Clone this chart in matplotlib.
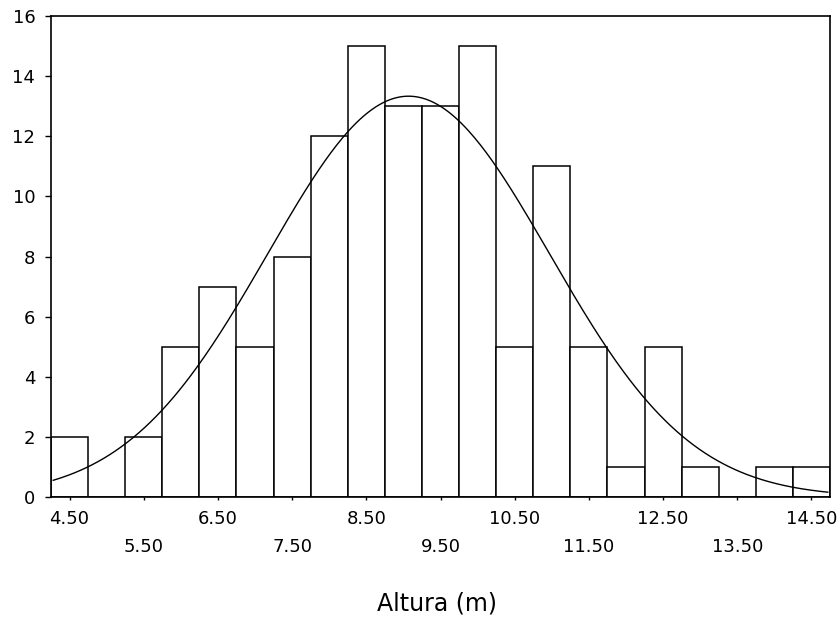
import numpy as np
import matplotlib
matplotlib.use("Agg")
import matplotlib.pyplot as plt

# Histogram data (bin centers, counts)
bin_centers = [4.5, 5.0, 5.5, 6.0, 6.5, 7.0, 7.5, 8.0, 8.5, 9.0, 9.5,
               10.0, 10.5, 11.0, 11.5, 12.0, 12.5, 13.0, 13.5, 14.0, 14.5]
counts = [2, 0, 2, 5, 7, 5, 8, 12, 15, 13, 13,
          15, 5, 11, 5, 1, 5, 1, 0, 1, 1]
bin_width = 0.5

# Fitted normal curve parameters
mean_h = 9.07
sd_h = 1.90

tick_values = [4.5, 5.5, 6.5, 7.5, 8.5, 9.5, 10.5, 11.5, 12.5, 13.5, 14.5]
tick_labels = ["4.50", "5.50", "6.50", "7.50", "8.50", "9.50",
               "10.50", "11.50", "12.50", "13.50", "14.50"]
y_ticks = [0, 2, 4, 6, 8, 10, 12, 14, 16]

plt.rcParams['font.family'] = ['DejaVu Sans']

fig = plt.figure(figsize=(8.4, 6.2), dpi=100)
ax = fig.add_axes([51/840, 1-497/620, (830-51)/840, (497-16)/620])

ax.bar(bin_centers, counts, width=bin_width, facecolor='white',
       edgecolor='black', linewidth=1.1, zorder=2)

n = sum(counts)
xs = np.linspace(4.28, 14.72, 400)
ys = n * bin_width / (sd_h * np.sqrt(2*np.pi)) * np.exp(-0.5*((xs-mean_h)/sd_h)**2)
ax.plot(xs, ys, color='black', linewidth=1.0, zorder=3)

ax.set_xlim(4.25, 14.75)
ax.set_ylim(0, 16)
ax.set_yticks(y_ticks)
ax.set_yticklabels([str(v) for v in y_ticks], fontsize=13)
ax.set_xticks(tick_values)
ax.set_xticklabels(tick_labels, fontsize=13)
for i, t in enumerate(ax.xaxis.get_major_ticks()):
    t.set_pad(6.5 if i % 2 == 0 else 27)

ax.tick_params(axis='x', direction='out', length=2.5, width=1.0)
ax.tick_params(axis='y', direction='out', length=4.3, width=1.0, pad=7)
for s in ax.spines.values():
    s.set_linewidth(1.2)

fig.text(437/840, 1-603/620, "Altura (m)", fontsize=17, ha='center', va='center')

fig.savefig("out.png", dpi=100)
